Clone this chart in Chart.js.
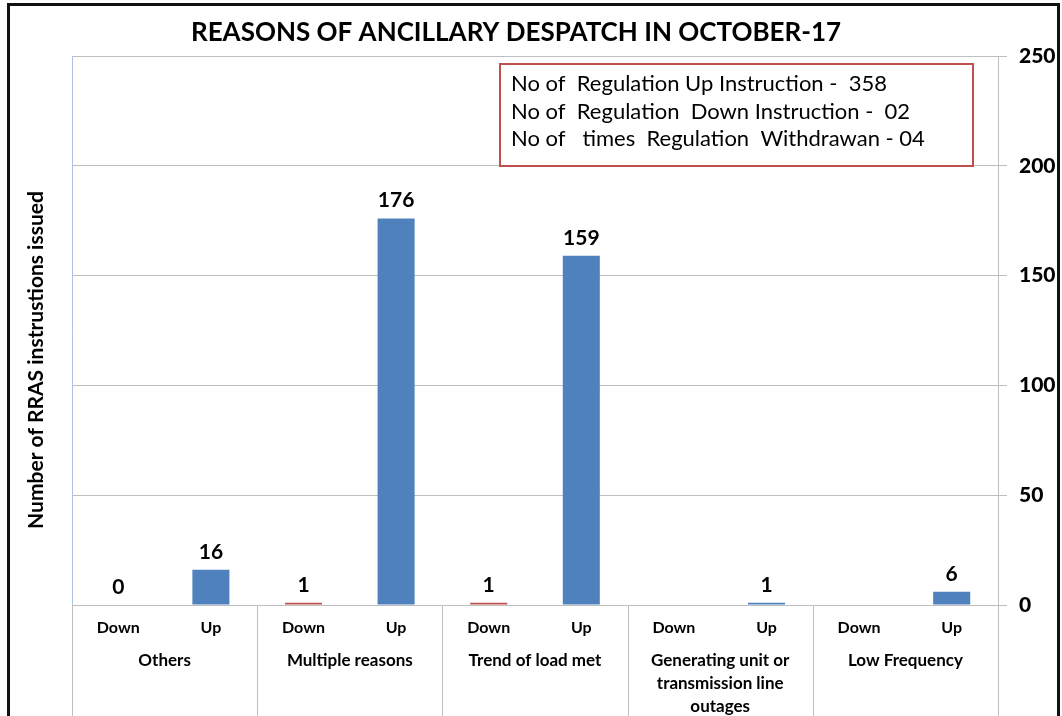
<!DOCTYPE html>
<html>
<head>
<meta charset="utf-8">
<script src="https://cdn.jsdelivr.net/npm/chart.js@4"></script>
<style>
  html, body { margin: 0; padding: 0; background: #fff; }
  #wrap { position: relative; width: 1062px; height: 716px; overflow: hidden; }
  #frame { position: absolute; left: 7px; top: 3px; width: 1047px; height: 800px;
           border: 3px solid #111; pointer-events: none; }
</style>
</head>
<body>
<div id="wrap">
  <canvas id="rrasChart" width="1062" height="716"></canvas>
  <div id="frame"></div>
</div>
<script>
const chartTitle = 'REASONS OF ANCILLARY DESPATCH IN OCTOBER-17';
const yTitle = 'Number of RRAS instrustions issued';
const groups = [
    ['Others'],
    ['Multiple reasons'],
    ['Trend of load met'],
    ['Generating unit or', 'transmission line', 'outages'],
    ['Low Frequency']
];
const subCategories = ['Down', 'Up'];
const downValues = [0, 1, 1, null, null];
const upValues = [16, 176, 159, 1, 6];
const yTicks = [0, 50, 100, 150, 200, 250];
const summaryLines = [
    'No of  Regulation Up Instruction -  358',
    'No of  Regulation  Down Instruction -  02',
    'No of   times  Regulation  Withdrawan - 04'
];

const downColor = '#C0504D';
const upColor = '#4F81BD';
const gridColor = '#BFBFBF';
const font = 'Lato, "Open Sans", sans-serif';

// interleave Down / Up for every reason
const labels = [];
const values = [];
const colors = [];
groups.forEach((g, i) => {
    labels.push(subCategories[0], subCategories[1]);
    values.push(downValues[i], upValues[i]);
    colors.push(downColor, upColor);
});

const extras = {
    id: 'extras',
    afterDraw(chart) {
        const ctx = chart.ctx;
        const area = chart.chartArea;
        const xs = chart.scales.x;
        ctx.save();

        // title
        ctx.fillStyle = '#000';
        ctx.font = 'bold 26px ' + font;
        ctx.textAlign = 'center';
        ctx.textBaseline = 'middle';
        ctx.fillText(chartTitle, 516, 33);

        // y axis title
        ctx.save();
        ctx.translate(36, 360);
        ctx.rotate(-Math.PI / 2);
        ctx.font = 'bold 21px ' + font;
        ctx.fillText(yTitle, 0, 0);
        ctx.restore();

        // left edge of the plot area
        ctx.strokeStyle = '#A9C4E4';
        ctx.lineWidth = 1;
        ctx.beginPath();
        ctx.moveTo(area.left + 0.5, area.top);
        ctx.lineTo(area.left + 0.5, area.bottom);
        ctx.stroke();

        // group dividers below the axis
        const step = xs.getPixelForValue(1) - xs.getPixelForValue(0);
        ctx.strokeStyle = gridColor;
        for (let i = 0; i <= groups.length; i++) {
            const x = Math.round(xs.getPixelForValue(i * 2) - step / 2) + 0.5;
            ctx.beginPath();
            ctx.moveTo(x, area.bottom);
            ctx.lineTo(x, 716);
            ctx.stroke();
        }
        ctx.beginPath();
        ctx.moveTo(area.left, area.bottom + 0.5);
        ctx.lineTo(area.right, area.bottom + 0.5);
        ctx.stroke();

        // Down / Up labels and reason labels
        ctx.fillStyle = '#000';
        ctx.font = 'bold 16px ' + font;
        labels.forEach((l, i) => ctx.fillText(l, xs.getPixelForValue(i), area.bottom + 23));
        ctx.font = 'bold 17px ' + font;
        groups.forEach((g, i) => {
            const cx = (xs.getPixelForValue(i * 2) + xs.getPixelForValue(i * 2 + 1)) / 2;
            g.forEach((line, j) => ctx.fillText(line, cx, area.bottom + 56 + j * 23));
        });

        // value labels
        ctx.font = 'bold 21px ' + font;
        chart.getDatasetMeta(0).data.forEach((bar, i) => {
            if (values[i] === null) return;
            ctx.fillText(String(values[i]), bar.x, bar.y - 18);
        });

        // summary box
        ctx.strokeStyle = downColor;
        ctx.lineWidth = 2;
        ctx.strokeRect(500, 64, 473, 102);
        ctx.font = '22px ' + font;
        ctx.textAlign = 'left';
        summaryLines.forEach((line, i) => ctx.fillText(line, 511, 84 + i * 27.5));

        ctx.restore();
    }
};

new Chart(document.getElementById('rrasChart').getContext('2d'), {
    type: 'bar',
    data: {
        labels: labels,
        datasets: [{
            data: values,
            backgroundColor: colors,
            borderWidth: 0,
            barPercentage: 0.4,
            categoryPercentage: 1
        }]
    },
    options: {
        responsive: false,
        animation: false,
        layout: { padding: { top: 56, left: 72, right: 0, bottom: 111 } },
        plugins: { legend: { display: false }, tooltip: { enabled: false } },
        scales: {
            x: {
                ticks: { display: false },
                grid: { display: false },
                border: { display: false },
                afterFit: s => { s.height = 0; }
            },
            y: {
                position: 'right',
                min: 0,
                max: 250,
                afterBuildTicks: s => { s.ticks = yTicks.map(v => ({ value: v })); },
                afterFit: s => { s.width = 64; },
                ticks: {
                    color: '#000',
                    font: { family: font, size: 21, weight: 900 },
                    padding: 12
                },
                grid: { color: gridColor, tickLength: 9 },
                border: { color: gridColor }
            }
        }
    },
    plugins: [extras]
});
</script>
</body>
</html>
